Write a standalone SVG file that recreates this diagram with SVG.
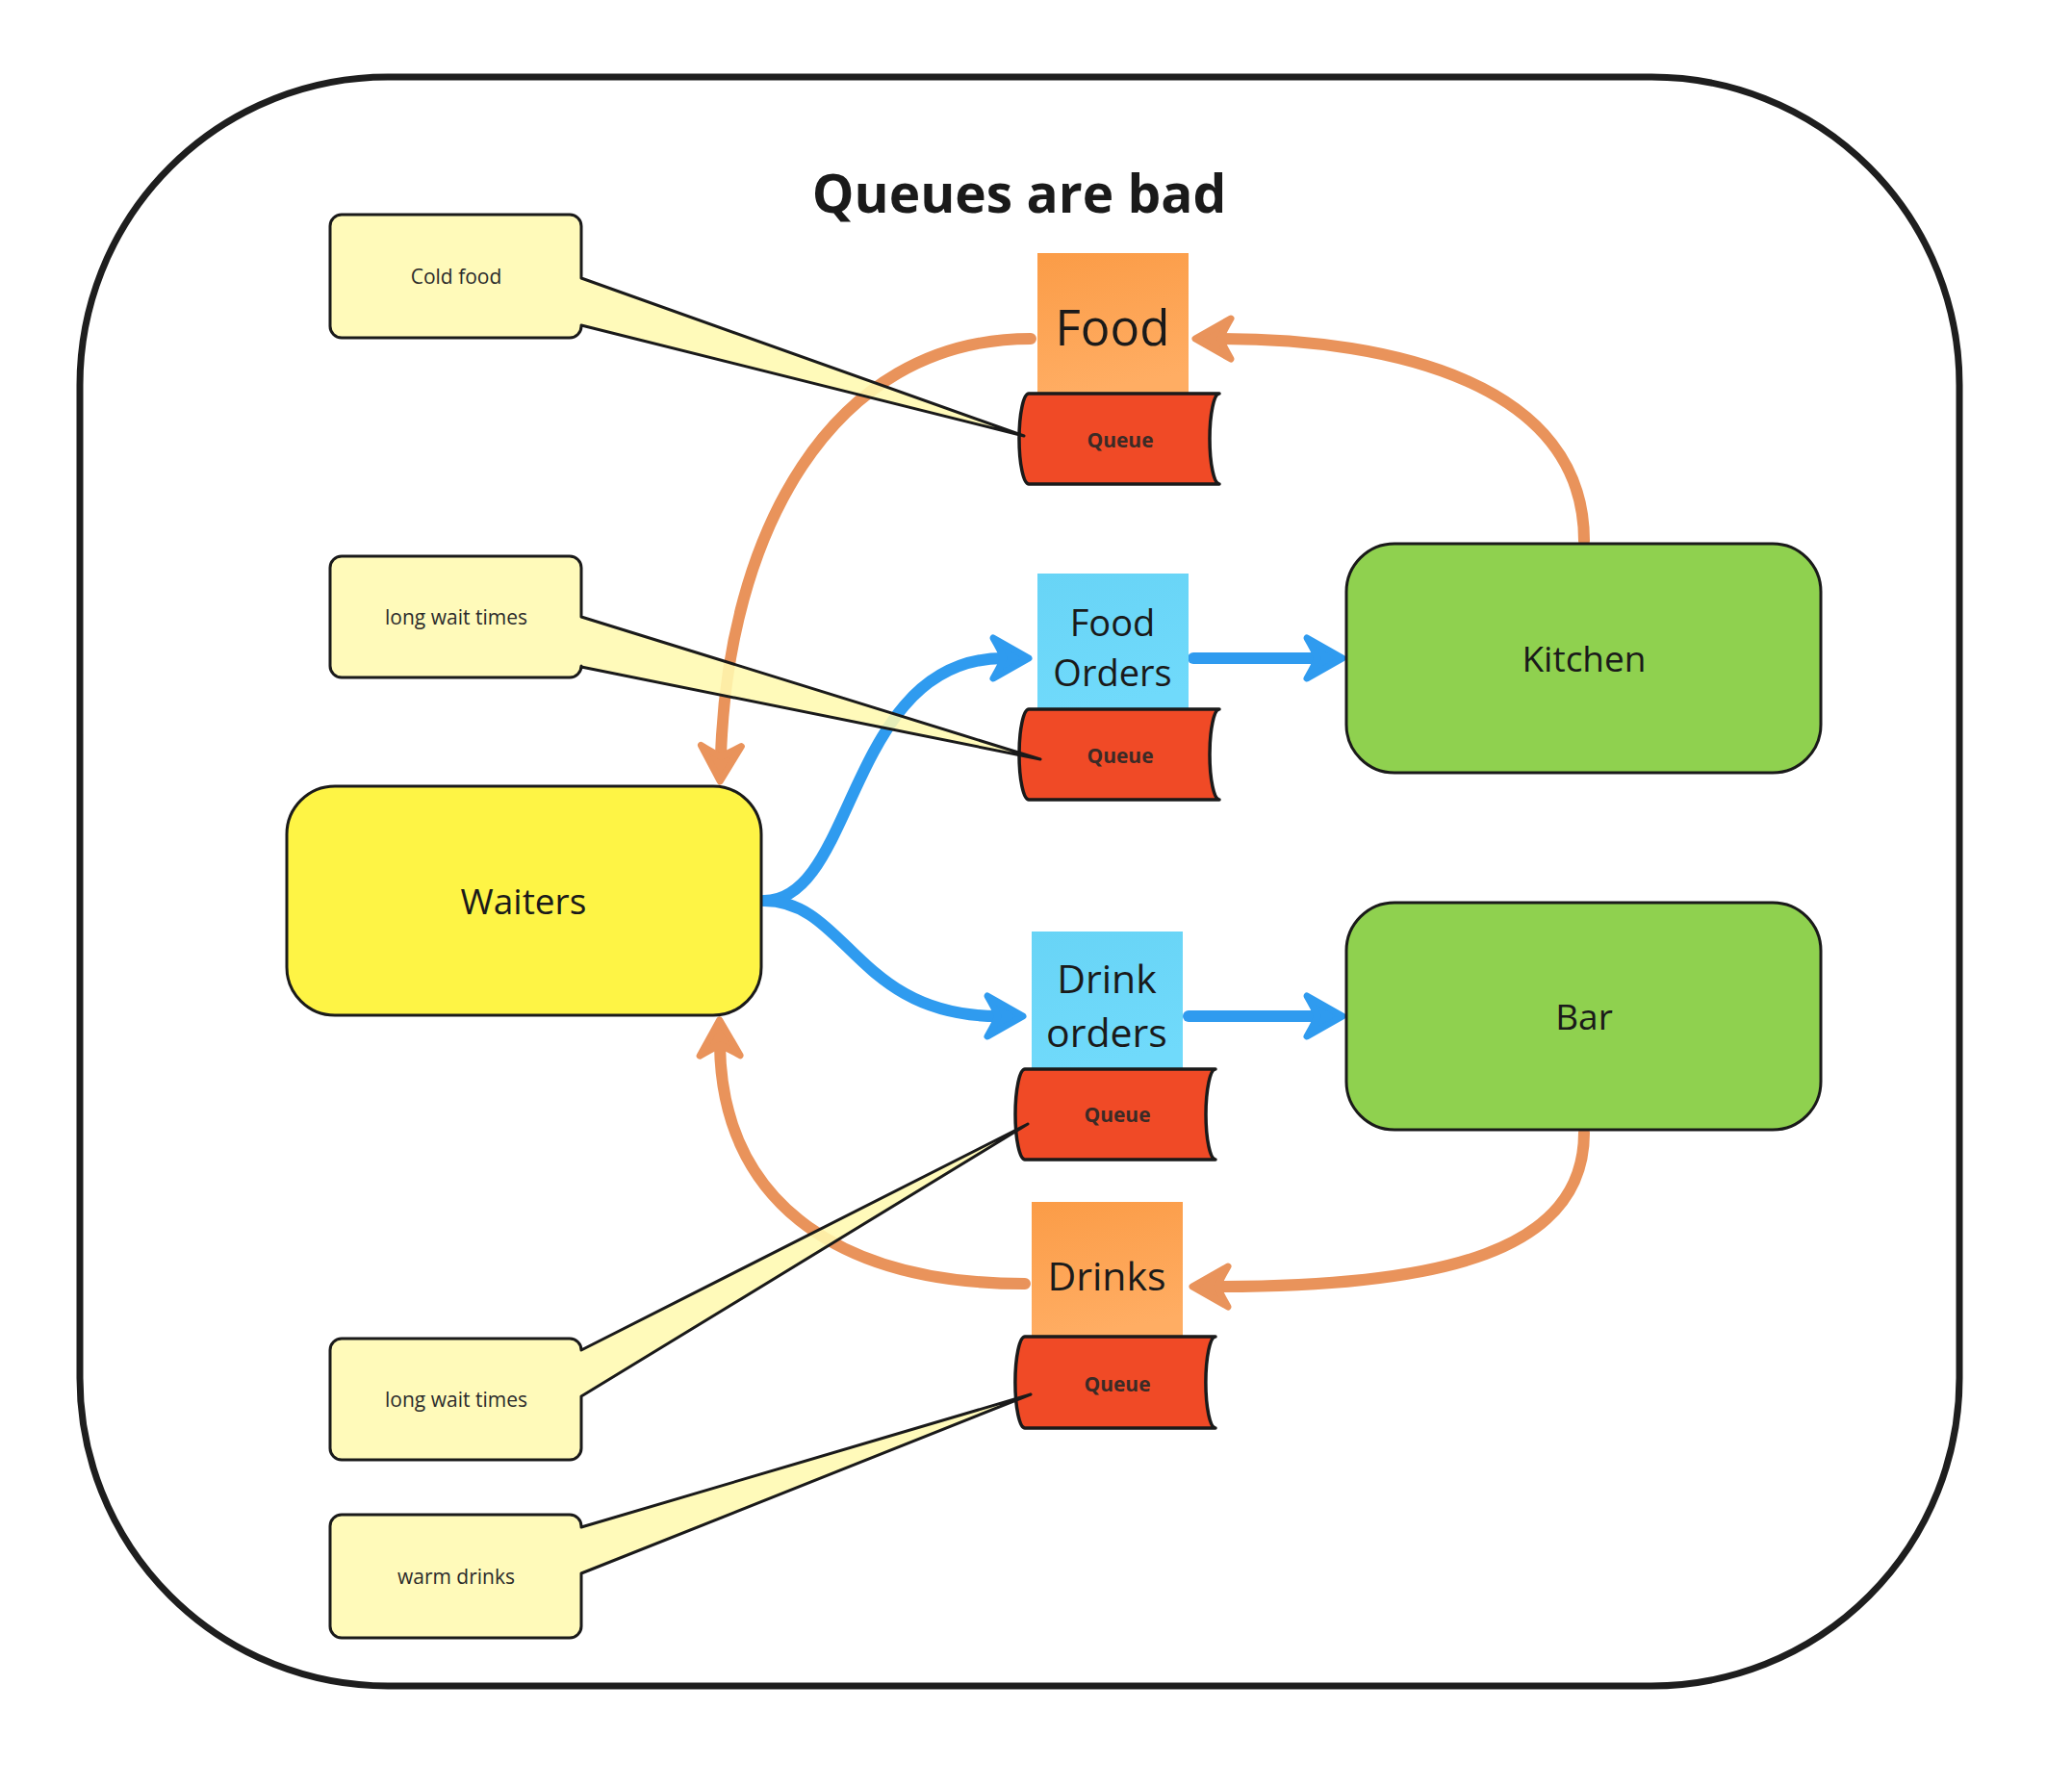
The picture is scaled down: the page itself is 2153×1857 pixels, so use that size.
<svg xmlns="http://www.w3.org/2000/svg" width="2153" height="1857" viewBox="0 0 2153 1857">
<style>
.frame{fill:#ffffff;stroke:#1e1e1e;stroke-width:7}
.title{font-family:"Open Sans","Noto Sans",sans-serif;font-weight:700;font-size:55px;fill:#1a1a1a;text-anchor:middle}
.box{stroke:#1a1a1a;stroke-width:3}
.lbl{font-family:"Open Sans","Noto Sans",sans-serif;font-size:37px;fill:#1a1a1a;text-anchor:middle}
.stk{font-family:"Open Sans","Noto Sans",sans-serif;fill:#1a1a1a;text-anchor:middle}
.queue{fill:#F04A26;stroke:#1a1a1a;stroke-width:3.5;stroke-linejoin:round}
.qt{font-family:"Open Sans","Noto Sans",sans-serif;font-weight:700;font-size:21px;fill:#3b2b26;text-anchor:middle}
.note{fill:#FFF9B1;fill-opacity:0.88;stroke:#1a1a1a;stroke-width:3;stroke-linejoin:round}
.nt{font-family:"Open Sans","Noto Sans",sans-serif;font-size:21px;fill:#2b2b2b;text-anchor:middle}
.or{fill:none;stroke:#E9935B;stroke-width:12;stroke-linecap:round}
.bl{fill:none;stroke:#2F9BEF;stroke-width:12;stroke-linecap:round}
</style>
<defs>
<linearGradient id="gOr" x1="0" y1="0" x2="0.2" y2="1">
<stop offset="0" stop-color="#FB9C47"/><stop offset="1" stop-color="#FFAD63"/>
</linearGradient>
<linearGradient id="gBl" x1="0" y1="0" x2="0.2" y2="1">
<stop offset="0" stop-color="#68D4F6"/><stop offset="1" stop-color="#70DAFB"/>
</linearGradient>
<marker id="aO" markerUnits="userSpaceOnUse" viewBox="-60 -30 70 60" markerWidth="70" markerHeight="60" refX="-26" refY="0" orient="auto" overflow="visible">
<path d="M 0 0 L -37 -21 Q -30 -9 -26 0 Q -30 9 -37 21 Z" fill="#E9935B" stroke="#E9935B" stroke-width="7" stroke-linejoin="round"/>
</marker>
<marker id="aB" markerUnits="userSpaceOnUse" viewBox="-60 -30 70 60" markerWidth="70" markerHeight="60" refX="-26" refY="0" orient="auto" overflow="visible">
<path d="M 0 0 L -37 -21 Q -30 -9 -26 0 Q -30 9 -37 21 Z" fill="#2F9BEF" stroke="#2F9BEF" stroke-width="7" stroke-linejoin="round"/>
</marker>
</defs>
<rect x="0" y="0" width="2153" height="1857" fill="#ffffff"/>
<g id="frame">
<rect class="frame" x="83" y="80" width="1953" height="1672" rx="320" ry="320"/>
<text class="title" x="1059" y="221">Queues are bad</text>
</g>

<g id="connectors">
<path class="or" d="M 1071 352 C 860 352 756 560 749 786" marker-end="url(#aO)"/>
<path class="or" d="M 1646 562 C 1646 400 1450 352 1268 352" marker-end="url(#aO)"/>
<path class="bl" d="M 794 936 C 890 936 880 684 1043 684" marker-end="url(#aB)"/>
<path class="bl" d="M 794 936 C 880 936 890 1056 1037 1056" marker-end="url(#aB)"/>
<path class="bl" d="M 1240 684 L 1369 684" marker-end="url(#aB)"/>
<path class="bl" d="M 1235 1056 L 1369 1056" marker-end="url(#aB)"/>
<path class="or" d="M 1646 1177 C 1646 1300 1500 1337 1265 1337" marker-end="url(#aO)"/>
<path class="or" d="M 1065 1334 C 860 1334 750 1240 748 1086" marker-end="url(#aO)"/>
</g>

<g id="waiters">
<rect class="box" x="298" y="817" width="493" height="238" rx="50" fill="#FEF445"/>
<text class="lbl" x="544" y="950">Waiters</text>
</g>
<g id="kitchen">
<rect class="box" x="1399" y="565" width="493" height="238" rx="50" fill="#8FD14F"/>
<text class="lbl" x="1646" y="698">Kitchen</text>
</g>
<g id="bar">
<rect class="box" x="1399" y="938" width="493" height="236" rx="50" fill="#8FD14F"/>
<text class="lbl" x="1646" y="1070">Bar</text>
</g>

<g id="food">
<rect x="1078" y="263" width="157" height="148" fill="url(#gOr)"/>
<text class="stk" x="1156" y="359" font-size="51">Food</text>
</g>
<g id="food-orders">
<rect x="1078" y="596" width="157" height="144" fill="url(#gBl)"/>
<text class="stk" x="1156" y="661" font-size="38">Food</text>
<text class="stk" x="1156" y="713" font-size="38">Orders</text>
</g>
<g id="drink-orders">
<rect x="1072" y="968" width="157" height="145" fill="url(#gBl)"/>
<text class="stk" x="1150" y="1032" font-size="41">Drink</text>
<text class="stk" x="1150" y="1088" font-size="41">orders</text>
</g>
<g id="drinks">
<rect x="1072" y="1249" width="157" height="142" fill="url(#gOr)"/>
<text class="stk" x="1150" y="1341" font-size="41">Drinks</text>
</g>

<g id="queue-food">
<path class="queue" d="M 1069 409 L 1267 409 A 10 47 0 0 0 1267 503 L 1069 503 A 10 47 0 0 1 1069 409 Z"/>
<text class="qt" x="1164" y="465">Queue</text>
</g>
<g id="queue-food-orders">
<path class="queue" d="M 1069 737 L 1267 737 A 10 47 0 0 0 1267 831 L 1069 831 A 10 47 0 0 1 1069 737 Z"/>
<text class="qt" x="1164" y="793">Queue</text>
</g>
<g id="queue-drink-orders">
<path class="queue" d="M 1065 1111 L 1263 1111 A 10 47 0 0 0 1263 1205 L 1065 1205 A 10 47 0 0 1 1065 1111 Z"/>
<text class="qt" x="1161" y="1166">Queue</text>
</g>
<g id="queue-drinks">
<path class="queue" d="M 1065 1389 L 1263 1389 A 10 47 0 0 0 1263 1484 L 1065 1484 A 10 47 0 0 1 1065 1389 Z"/>
<text class="qt" x="1161" y="1446">Queue</text>
</g>

<g id="note-cold-food">
<path class="note" d="M 355 223 H 592 A 12 12 0 0 1 604 235 V 289 L 1064 453 L 604 338 V 339 A 12 12 0 0 1 592 351 H 355 A 12 12 0 0 1 343 339 V 235 A 12 12 0 0 1 355 223 Z"/>
<text class="nt" x="474" y="295">Cold food</text>
</g>
<g id="note-wait-food">
<path class="note" d="M 355 578 H 592 A 12 12 0 0 1 604 590 V 641 L 1081 789 L 604 693 V 692 A 12 12 0 0 1 592 704 H 355 A 12 12 0 0 1 343 692 V 590 A 12 12 0 0 1 355 578 Z"/>
<text class="nt" x="474" y="649">long wait times</text>
</g>
<g id="note-wait-drinks">
<path class="note" d="M 355 1391 H 592 A 12 12 0 0 1 604 1403 L 1068 1168 L 604 1451 V 1505 A 12 12 0 0 1 592 1517 H 355 A 12 12 0 0 1 343 1505 V 1403 A 12 12 0 0 1 355 1391 Z"/>
<text class="nt" x="474" y="1462">long wait times</text>
</g>
<g id="note-warm-drinks">
<path class="note" d="M 355 1574 H 592 A 12 12 0 0 1 604 1586 V 1587 L 1071 1449 L 604 1635 V 1690 A 12 12 0 0 1 592 1702 H 355 A 12 12 0 0 1 343 1690 V 1586 A 12 12 0 0 1 355 1574 Z"/>
<text class="nt" x="474" y="1646">warm drinks</text>
</g>
</svg>
